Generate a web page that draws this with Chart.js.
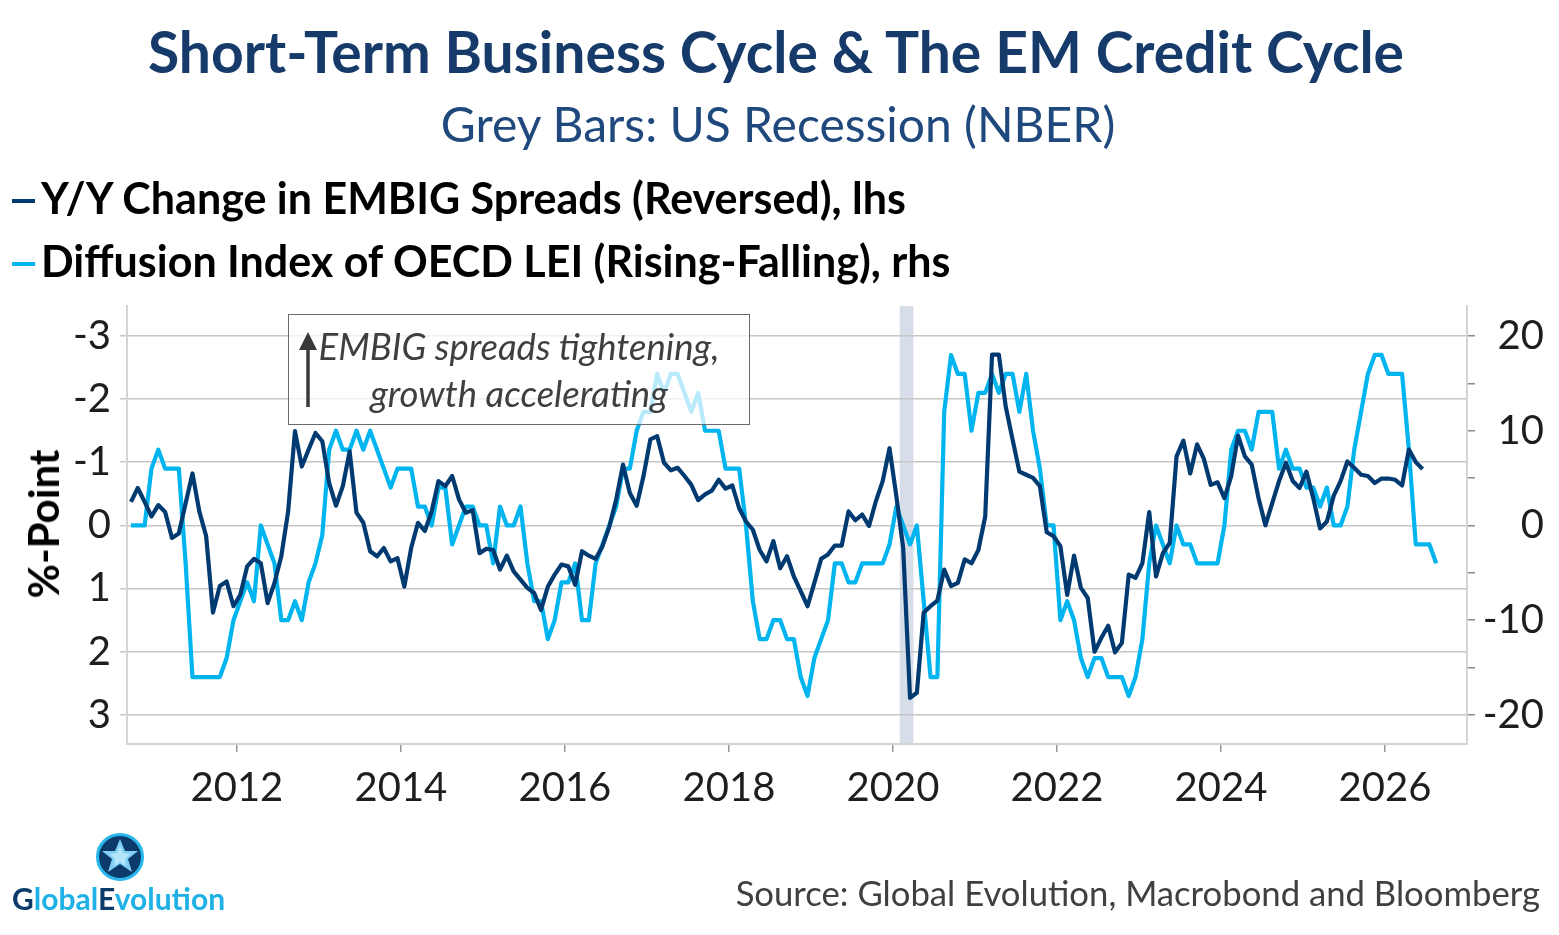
<!DOCTYPE html>
<html>
<head>
<meta charset="utf-8">
<title>Short-Term Business Cycle & The EM Credit Cycle</title>
<script src="https://cdn.jsdelivr.net/npm/chart.js@4.4.1/dist/chart.umd.min.js"></script>
<style>
  body { margin: 0; background: #fff; font-family: Lato, "Open Sans", sans-serif; }
  #wrap { position: relative; width: 1559px; height: 935px; overflow: hidden; }
  #chart { position: absolute; left: 0; top: 0; }
  .txt { position: absolute; white-space: nowrap; }
  #title { left: 0; width: 1552px; text-align: center; top: 17px; font-size: 57px; font-weight: bold; color: #163b6b; }
  #subtitle { left: 0; width: 1556px; text-align: center; top: 95px; font-size: 48px; color: #1f497d; }
  .leg { left: 12px; font-size: 43px; font-weight: bold; color: #000; }
  .leg .dash { display: inline-block; width: 23px; height: 4px; margin-right: 6px; vertical-align: middle; position: relative; top: -2px; }
  #leg1 { top: 172px; }
  #leg2 { top: 235px; }
  #ytitle { left: 43px; top: 524px; font-size: 42px; font-weight: bold; color: #000;
            transform: translate(-50%, -50%) rotate(-90deg); }
  #note { left: 288px; top: 314px; width: 460px; height: 109px; border: 1.5px solid #6b6b6b;
          background: rgba(255,255,255,0.72); }
  #note .line { position: absolute; left: 0; width: 100%; text-align: center; font-style: italic; font-size: 36.5px; color: #3f3f3f; }
  #note svg { position: absolute; left: 9px; top: 15px; }
  #source { right: 19px; top: 872px; font-size: 34.7px; color: #404040; }
  #logo { left: 12px; top: 832px; }
  #logotext { position: absolute; left: 0; top: 48px; font-size: 30px; font-weight: bold; color: #1fb1e6; white-space: nowrap; }
</style>
</head>
<body>
<div id="wrap">
  <canvas id="chart" width="1559" height="935"></canvas>
  <div class="txt" id="title">Short-Term Business Cycle &amp; The EM Credit Cycle</div>
  <div class="txt" id="subtitle">Grey Bars: US Recession (NBER)</div>
  <div class="txt leg" id="leg1"><span class="dash" style="background:#003a70"></span>Y/Y Change in EMBIG Spreads (Reversed), lhs</div>
  <div class="txt leg" id="leg2"><span class="dash" style="background:#00b5ef"></span>Diffusion Index of OECD LEI (Rising-Falling), rhs</div>
  <div class="txt" id="ytitle">%-Point</div>
  <div class="txt" id="note">
    <svg width="20" height="80" viewBox="0 0 20 80">
      <line x1="10" y1="16" x2="10" y2="77" stroke="#3a3a3a" stroke-width="3.5"/>
      <polygon points="10,2 1,20 19,20" fill="#3a3a3a"/>
    </svg>
    <div class="line" style="top:9px">EMBIG spreads tightening,</div>
    <div class="line" style="top:56px">growth accelerating</div>
  </div>
  <div class="txt" id="source">Source: Global Evolution, Macrobond and Bloomberg</div>
  <div class="txt" id="logo">
    <svg width="230" height="50" viewBox="0 0 230 50" style="position:absolute;left:0;top:0">
      <circle cx="108" cy="25" r="22.5" fill="#0b3a6b" stroke="#29b6ea" stroke-width="3"/>
      <polygon points="108,7 113,19 126,19 116,27 120,40 108,32 96,40 100,27 90,19 103,19" fill="#7fd0f3"/>
      <polygon points="108,14 111,21 118,22 113,27 114,34 108,30 102,34 103,27 98,22 105,21" fill="#b5e6fa"/>
    </svg>
    <div id="logotext"><span style="color:#0b3a6b">G</span>lobal<span style="color:#0b3a6b">E</span>volution</div>
  </div>
</div>

<script>
// --- data (monthly, first point Sep 2010)
var startYear = 2010;
var startMonth = 9;

// Y/Y change in EMBIG spreads, %-point (lhs, reversed)
var embigChange = [
  -0.37, -0.59, -0.37, -0.14, -0.32, -0.21, 0.20, 0.13, -0.35, -0.82,
  -0.22, 0.17, 1.38, 0.96, 0.89, 1.28, 1.10, 0.65, 0.53, 0.60,
  1.23, 0.91, 0.49, -0.22, -1.49, -0.93, -1.20, -1.46, -1.33, -0.67,
  -0.31, -0.62, -1.17, -0.20, -0.04, 0.41, 0.49, 0.36, 0.57, 0.52,
  0.97, 0.36, -0.04, 0.09, -0.22, -0.70, -0.62, -0.78, -0.41, -0.20,
  -0.24, 0.44, 0.37, 0.39, 0.70, 0.48, 0.73, 0.86, 0.99, 1.07,
  1.34, 0.97, 0.78, 0.62, 0.65, 0.94, 0.41, 0.48, 0.53, 0.33,
  0.02, -0.41, -0.96, -0.51, -0.31, -0.78, -1.36, -1.41, -0.99, -0.87,
  -0.91, -0.78, -0.64, -0.40, -0.49, -0.55, -0.72, -0.58, -0.63, -0.27,
  -0.06, 0.07, 0.39, 0.57, 0.25, 0.68, 0.49, 0.81, 1.04, 1.28,
  0.91, 0.53, 0.46, 0.32, 0.32, -0.22, -0.08, -0.17, 0.01, -0.38,
  -0.70, -1.22, -0.46, 0.36, 2.73, 2.65, 1.38, 1.28, 1.19, 0.70,
  0.96, 0.91, 0.54, 0.60, 0.39, -0.14, -2.70, -2.70, -1.88, -1.36,
  -0.85, -0.80, -0.75, -0.62, 0.11, 0.17, 0.33, 1.10, 0.48, 0.99,
  1.15, 2.00, 1.78, 1.59, 2.01, 1.86, 0.78, 0.83, 0.60, -0.21,
  0.81, 0.44, 0.28, -1.09, -1.34, -0.82, -1.28, -1.05, -0.64, -0.68,
  -0.43, -0.78, -1.42, -1.09, -0.96, -0.43, 0.00, -0.35, -0.70, -0.99,
  -0.70, -0.59, -0.85, -0.43, 0.05, -0.06, -0.47, -0.70, -1.01, -0.91,
  -0.80, -0.78, -0.67, -0.74, -0.74, -0.72, -0.63, -1.20, -1.00, -0.89
];

// Diffusion index of OECD LEI, rising minus falling (rhs)
var oecdDiffusion = [
  0, 0, 0, 6, 8, 6, 6, 6, -4, -16,
  -16, -16, -16, -16, -14, -10, -8, -6, -8, 0,
  -2, -4, -10, -10, -8, -10, -6, -4, -1, 8,
  10, 8, 8, 10, 8, 10, 8, 6, 4, 6,
  6, 6, 2, 2, 0, 4, 4, -2, 0, 2,
  2, 0, 0, -4, 2, 0, 0, 2, -4, -8,
  -8, -12, -10, -6, -6, -4, -10, -10, -4, -2,
  0, 2, 6, 6, 10, 12, 12, 16, 14, 16,
  16, 14, 12, 14, 10, 10, 10, 6, 6, 6,
  0, -8, -12, -12, -10, -10, -12, -12, -16, -18,
  -14, -12, -10, -4, -4, -6, -6, -4, -4, -4,
  -4, -2, 2, 0, -2, 0, -8, -16, -16, 12,
  18, 16, 16, 10, 14, 14, 16, 14, 16, 16,
  12, 16, 10, 6, 0, 0, -10, -8, -10, -14,
  -16, -14, -14, -16, -16, -16, -18, -16, -12, -4,
  0, -2, -4, 0, -2, -2, -4, -4, -4, -4,
  0, 8, 10, 10, 8, 12, 12, 12, 6, 8,
  6, 6, 4, 4, 2, 4, 0, 0, 2, 8,
  12, 16, 18, 18, 16, 16, 16, 8, -2, -2,
  -2, -4
];

var xTicks = [2012, 2014, 2016, 2018, 2020, 2022, 2024, 2026];
var lhsTicks = [-3, -2, -1, 0, 1, 2, 3];
var rhsTicks = [-20, -15, -10, -5, 0, 5, 10, 15, 20];
var rhsTickLabels = [-20, -10, 0, 10, 20];
var recession = [2020.083, 2020.25]; // NBER, Feb-Apr 2020

// --- helpers
function monthX(i) {
  var m = startMonth - 1 + i;
  return startYear + (m + 0.5) / 12;
}
function toPoints(arr) {
  return arr.map(function (v, i) { return { x: monthX(i), y: v }; });
}

var tickFont = { family: 'Lato, "Open Sans", sans-serif', size: 40 };

var recessionBand = {
  id: 'recessionBand',
  beforeDraw: function (chart) {
    var a = chart.chartArea, x = chart.scales.x, ctx = chart.ctx;
    var x0 = x.getPixelForValue(recession[0]);
    var x1 = x.getPixelForValue(recession[1]);
    ctx.save();
    ctx.fillStyle = '#d7dee9';
    ctx.fillRect(x0, a.top, x1 - x0, a.bottom - a.top);
    ctx.restore();
  }
};

new Chart(document.getElementById('chart'), {
  type: 'line',
  data: {
    datasets: [
      {
        label: 'Y/Y Change in EMBIG Spreads (Reversed), lhs',
        data: toPoints(embigChange),
        yAxisID: 'yL',
        borderColor: '#003a70',
        borderWidth: 4.2,
        pointRadius: 0,
        tension: 0,
        borderJoinStyle: 'round'
      },
      {
        label: 'Diffusion Index of OECD LEI (Rising-Falling), rhs',
        data: toPoints(oecdDiffusion),
        yAxisID: 'yR',
        borderColor: '#00b5ef',
        borderWidth: 4.2,
        pointRadius: 0,
        tension: 0,
        borderJoinStyle: 'round'
      }
    ]
  },
  options: {
    responsive: false,
    animation: false,
    devicePixelRatio: 1,
    layout: { padding: { top: 306, left: 0, right: 15, bottom: 0 } },
    plugins: { legend: { display: false }, tooltip: { enabled: false }, title: { display: false } },
    scales: {
      x: {
        type: 'linear',
        min: 2010.66,
        max: 2027.0,
        afterFit: function (s) { s.height = 191; },
        afterBuildTicks: function (s) { s.ticks = xTicks.map(function (v) { return { value: v }; }); },
        ticks: { font: tickFont, color: '#1e1e1e', padding: 12, maxRotation: 0, autoSkip: false,
                 callback: function (v) { return String(v); } },
        grid: { drawOnChartArea: false, drawTicks: true, tickLength: 8, color: '#9a9a9a', lineWidth: 1.5 },
        border: { display: true, color: '#d4d4d4', width: 2 }
      },
      yL: {
        position: 'left',
        reverse: true,
        min: -3.47,
        max: 3.46,
        afterFit: function (s) { s.width = 127; },
        afterBuildTicks: function (s) { s.ticks = lhsTicks.map(function (v) { return { value: v }; }); },
        ticks: { font: tickFont, color: '#1e1e1e', padding: 9,
                 callback: function (v) { return String(v); } },
        grid: { color: '#c6c6c6', lineWidth: 1.5, drawTicks: true, tickLength: 7 },
        border: { display: true, color: '#d4d4d4', width: 2 }
      },
      yR: {
        position: 'right',
        min: -23.07,
        max: 23.17,
        afterFit: function (s) { s.width = 77; },
        afterBuildTicks: function (s) { s.ticks = rhsTicks.map(function (v) { return { value: v }; }); },
        ticks: { font: tickFont, color: '#1e1e1e', padding: 10, crossAlign: 'far',
                 callback: function (v) { return rhsTickLabels.indexOf(v) >= 0 ? String(v) : ''; } },
        grid: { drawOnChartArea: false, drawTicks: true, tickLength: 8, color: '#8a8a8a', lineWidth: 1.5 },
        border: { display: true, color: '#d4d4d4', width: 2 }
      }
    }
  },
  plugins: [recessionBand]
});
</script>
</body>
</html>
